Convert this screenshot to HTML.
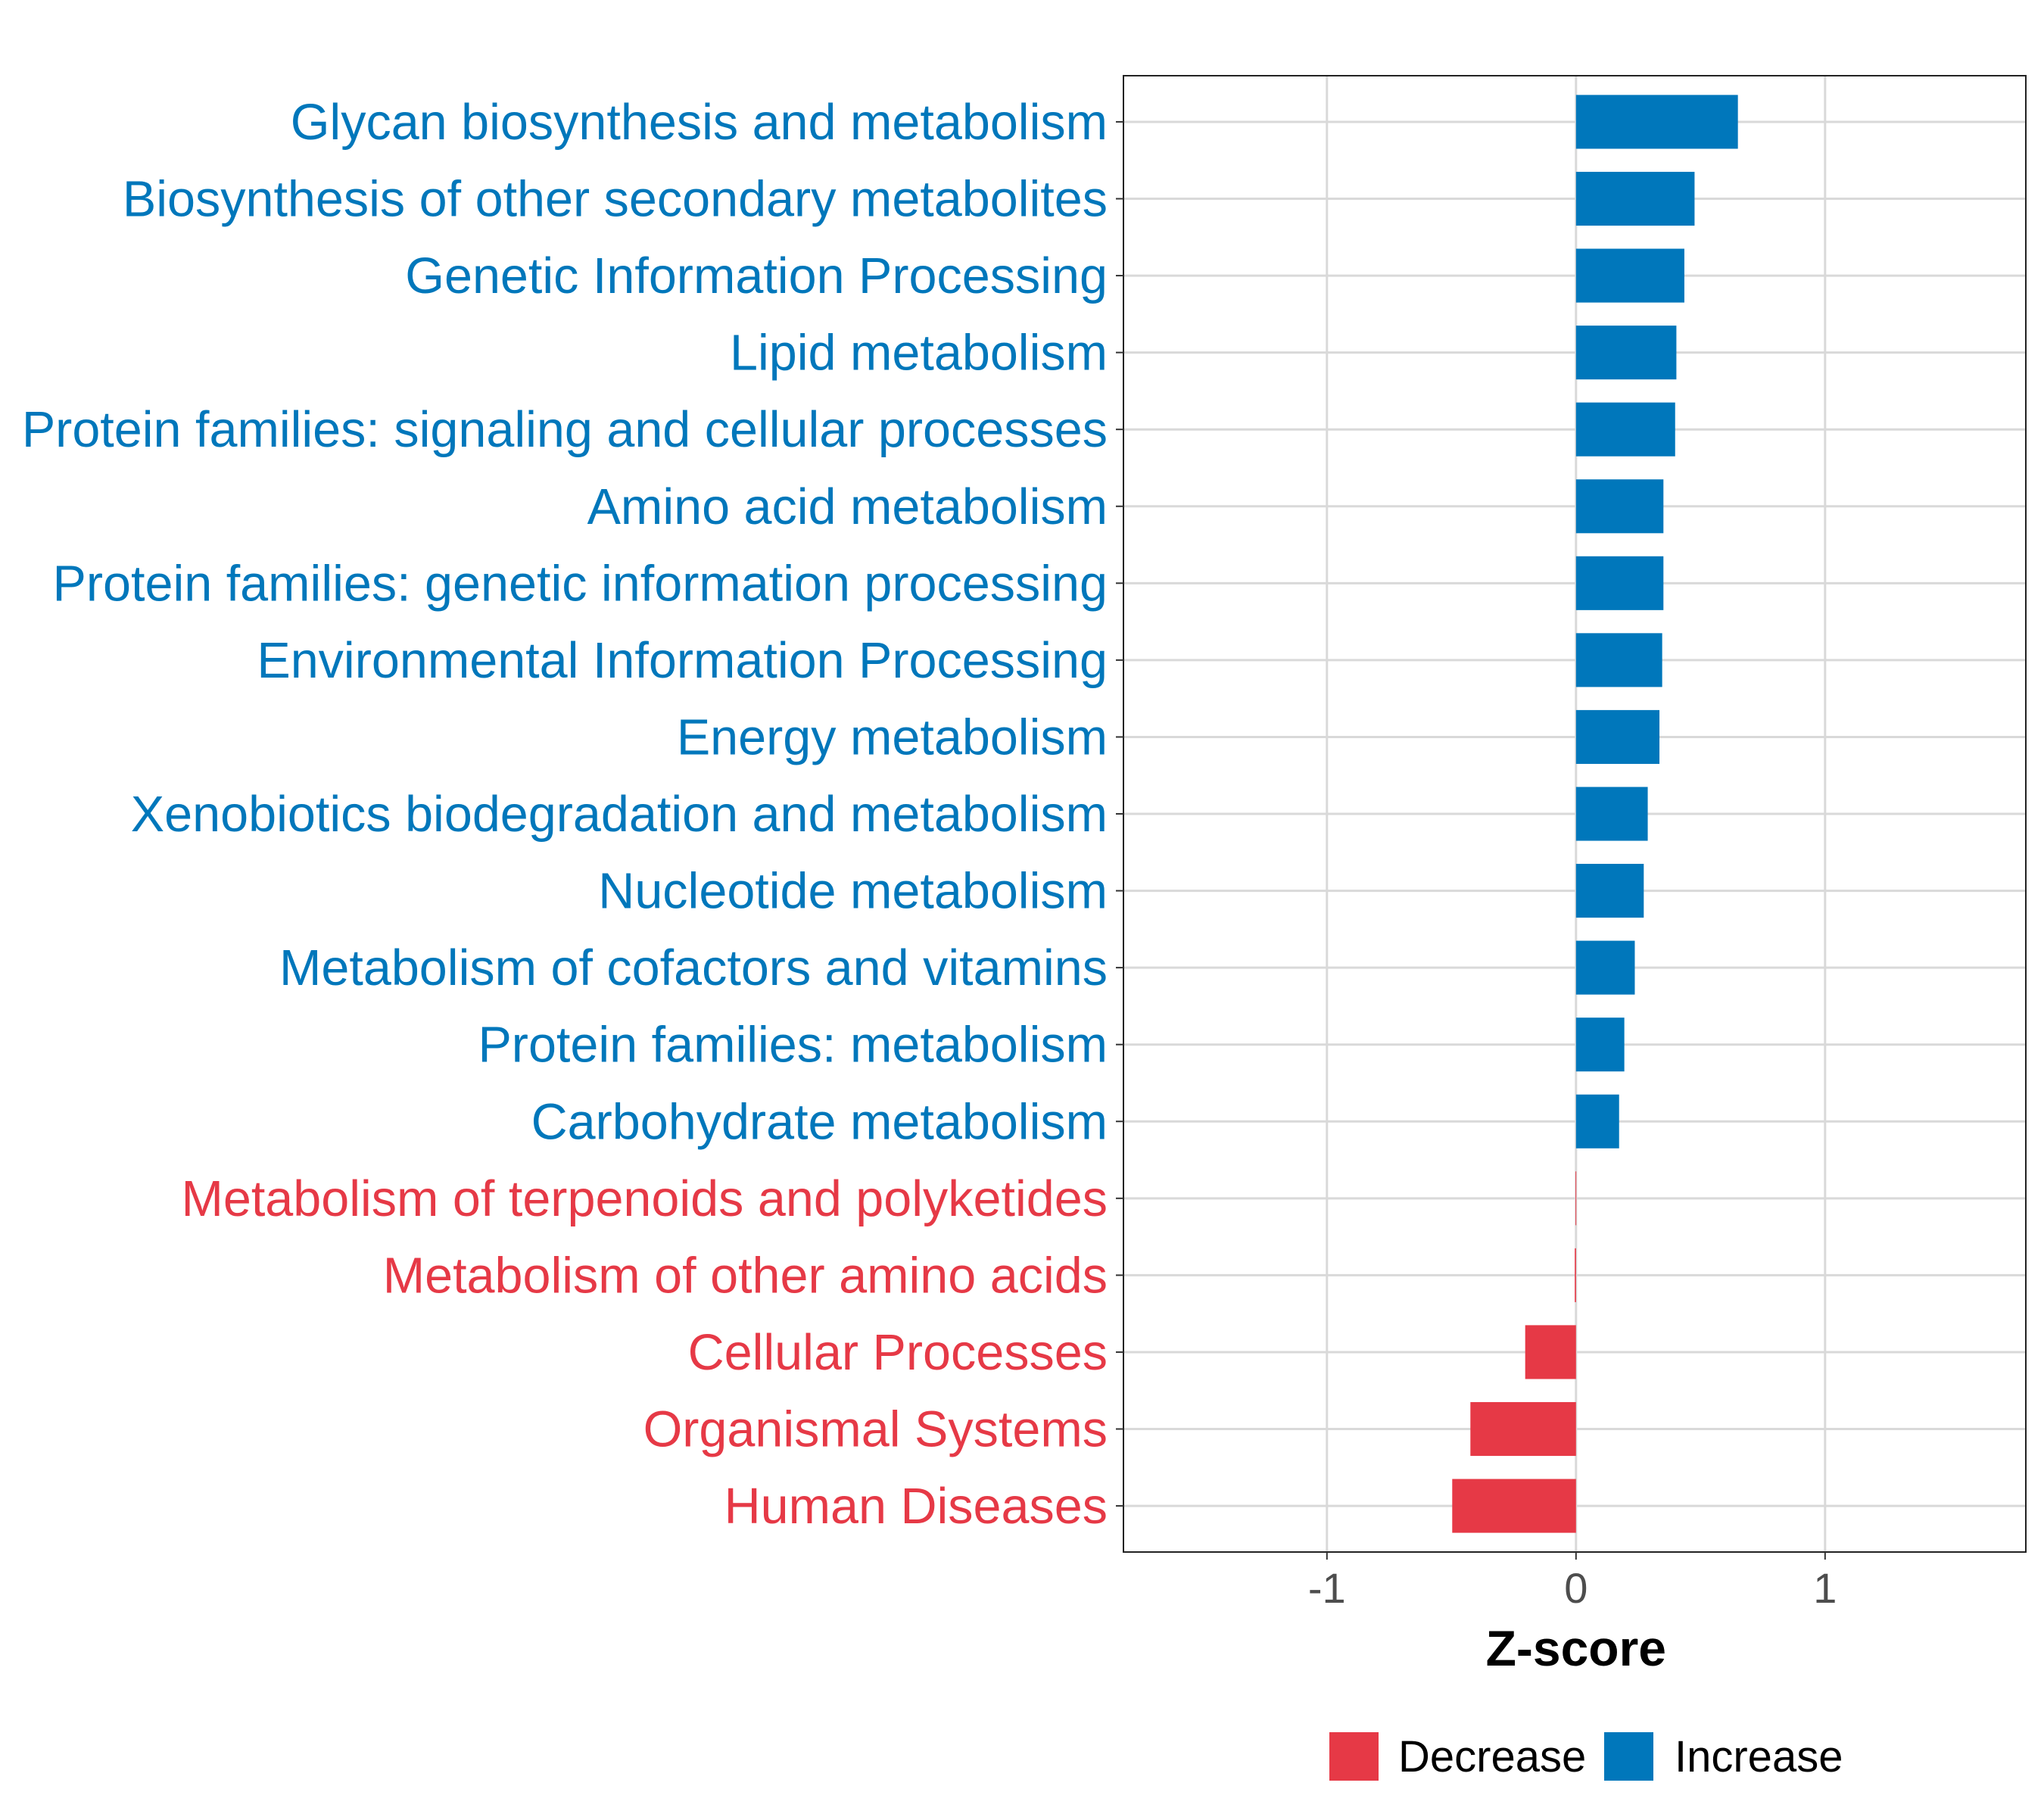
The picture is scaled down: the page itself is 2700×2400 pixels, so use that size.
<!DOCTYPE html>
<html><head><meta charset="utf-8">
<style>html,body{margin:0;padding:0;background:#fff}svg{display:block}</style>
</head><body>
<svg id="chart" width="2700" height="2400" xmlns="http://www.w3.org/2000/svg" font-family="Liberation Sans, Arial, sans-serif"></svg>
<script>
const categories = ["Glycan biosynthesis and metabolism","Biosynthesis of other secondary metabolites","Genetic Information Processing","Lipid metabolism","Protein families: signaling and cellular processes","Amino acid metabolism","Protein families: genetic information processing","Environmental Information Processing","Energy metabolism","Xenobiotics biodegradation and metabolism","Nucleotide metabolism","Metabolism of cofactors and vitamins","Protein families: metabolism","Carbohydrate metabolism","Metabolism of terpenoids and polyketides","Metabolism of other amino acids","Cellular Processes","Organismal Systems","Human Diseases"];
const zscores = [0.65,0.476,0.435,0.403,0.398,0.351,0.351,0.346,0.335,0.288,0.272,0.236,0.194,0.173,-0.002,-0.005,-0.204,-0.424,-0.497];
const xTicks = [-1,0,1];
const xTickLabels = ["-1","0","1"];
const legendLabels = ["Decrease","Increase"];

const NS="http://www.w3.org/2000/svg";
const svg=document.getElementById('chart');
const L=1484,R=2676,T=100,B=2050;
const xMin=-1.817,xMax=1.806;
const x=v=>L+(v-xMin)/(xMax-xMin)*(R-L);
const n=categories.length;
const step=(B-T)/(n-1+1.2);
const y=i=>T+step*(i+0.6);
const BLUE="#0077bb",RED="#e63946";
function mk(tag,attrs){const e=document.createElementNS(NS,tag);for(const k in attrs)e.setAttribute(k,attrs[k]);svg.appendChild(e);return e;}

xTicks.forEach(t=>{const g=mk('line',{x1:x(t),x2:x(t),y1:T,y2:B,stroke:'#d9d9d9','stroke-width':3});

});
categories.forEach((c,i)=>{const g=mk('line',{x1:L,x2:R,y1:y(i),y2:y(i),stroke:'#d9d9d9','stroke-width':3});

});

const bh=step*0.7;
zscores.forEach((v,i)=>{
 const x0=x(Math.min(0,v)),x1=x(Math.max(0,v));
 const b=mk('rect',{x:x0,y:y(i)-bh/2,width:Math.max(x1-x0,1),height:bh,fill:v>=0?BLUE:RED});
 
 
});

const p=mk('rect',{x:L,y:T,width:R-L,height:B-T,fill:'none',stroke:'#222','stroke-width':2});



categories.forEach((c,i)=>{
 const tk=mk('line',{x1:L-10,x2:L,y1:y(i),y2:y(i),stroke:'#333','stroke-width':2});
 
 
 const t=mk('text',{x:1463,y:y(i)+23,'text-anchor':'end','font-size':66.5,fill:zscores[i]>=0?BLUE:RED});
 t.textContent=c;
 
 
});

xTicks.forEach((v,i)=>{
 const tk=mk('line',{x1:x(v),x2:x(v),y1:B,y2:B+10,stroke:'#333','stroke-width':2});
 
 
 const t=mk('text',{x:x(v),y:2117,'text-anchor':'middle','font-size':56,fill:'#4d4d4d'});
 t.textContent=xTickLabels[i];
 
 
});

const ti=mk('text',{x:x(0),y:2200,'text-anchor':'middle','font-size':66,'font-weight':'bold',fill:'#000'});
ti.textContent='Z-score';



const lx=[1756,2119],tx=[1847,2212],lc=[RED,BLUE];
legendLabels.forEach((lab,i)=>{
 const r=mk('rect',{x:lx[i],y:2288,width:65,height:64,fill:lc[i]});
 
 
 const t=mk('text',{x:tx[i],y:2340,'font-size':58,fill:'#000'});
 t.textContent=lab;
 
 
});
</script>
</body></html>
